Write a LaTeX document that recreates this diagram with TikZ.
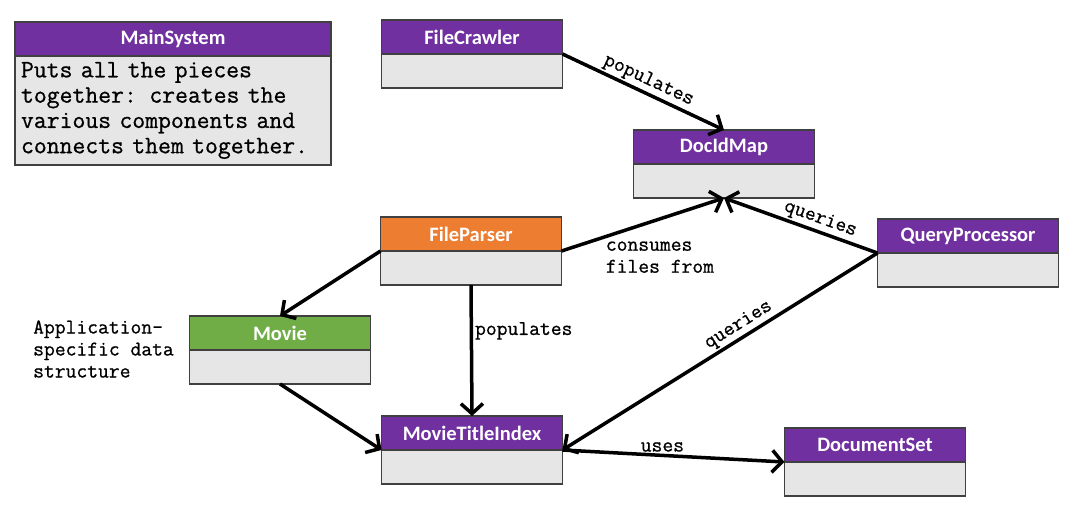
\documentclass[tikz,border=0pt]{standalone}
\usepackage{fontspec}
\usepackage{tikz}
\usetikzlibrary{positioning}
\usetikzlibrary{arrows.meta}
\setmainfont{Carlito}
\newfontfamily\codefont[FakeBold=0.8]{Latin Modern Mono}
\definecolor{umlpurple}{HTML}{7030A0}
\definecolor{umlorange}{HTML}{ED7D31}
\definecolor{umlgreen}{HTML}{70AD47}
\definecolor{umlgray}{HTML}{E6E6E6}
\definecolor{umlline}{HTML}{404040}

\begin{document}
\begin{tikzpicture}[x=1pt, y=-1pt,
    cls/.style={rectangle, draw=umlline, line width=1.3pt, text=white, minimum width=181pt, minimum height=34pt, inner sep=0pt, outer sep=0pt, font=\fontsize{20.5}{24}\selectfont\bfseries},
    clsbody/.style={rectangle, draw=umlline, line width=1.3pt, fill=umlgray, minimum width=181pt, minimum height=34pt, inner sep=0pt, outer sep=0pt},
    link/.style={line width=3.5pt, -{Straight Barb[length=10pt, width=22pt]}},
    note/.style={font=\codefont\fontsize{21}{22}\selectfont, inner sep=2pt}]
    \useasboundingbox (0,0) rectangle (1088,516);
    % main system box with its description
    \node[cls, fill=umlpurple, minimum width=316pt] (main) at (173,39) {MainSystem};
    \node[clsbody, minimum width=316pt, minimum height=109pt, below=0pt of main, align=left, text width=304pt,
        font=\codefont\fontsize{25}{25.3}\selectfont] (main-b) {Puts all the pieces\\together: creates the\\various components and\\connects them together.};
    % the classes
    \foreach \n/\x/\y/\c/\t in {crawler/472/37/umlpurple/FileCrawler, docmap/724/147/umlpurple/DocIdMap,
        parser/471/234/umlorange/FileParser, query/968/236/umlpurple/QueryProcessor,
        movie/280/333/umlgreen/Movie, index/472/433/umlpurple/MovieTitleIndex,
        docset/875/445/umlpurple/DocumentSet}
    {
        \node[cls, fill=\c] (\n) at (\x,\y) {\t};
        \node[clsbody, below=0pt of \n] (\n-b) {};
    }
    \node[note, align=left, anchor=west] (appnote) at (31,349) {Application-\\specific data\\structure};
    % connectors
    \draw[link] (crawler.south east) -- node[note, sloped, above] {populates} (docmap.north);
    \draw[link] (parser.south east) -- node[note, pos=0.25, anchor=north west, align=left] {consumes\\files from} (docmap-b.south);
    \draw[link] (query.south west) -- node[note, pos=0.4, sloped, above] {queries} (docmap-b.south);
    \draw[link] (parser.south west) -- (movie.north);
    \draw[link] (parser-b.south) -- node[note, pos=0.35, right] {populates} (index.north);
    \draw[link] (movie-b.south) -- (index.south west);
    \draw[link] (query.south west) -- node[note, pos=0.42, sloped, above] {queries} (index.south east);
    \draw[link] (index.south east) -- node[note, pos=0.45, above] {uses} (docset.south west);
\end{tikzpicture}
\end{document}
